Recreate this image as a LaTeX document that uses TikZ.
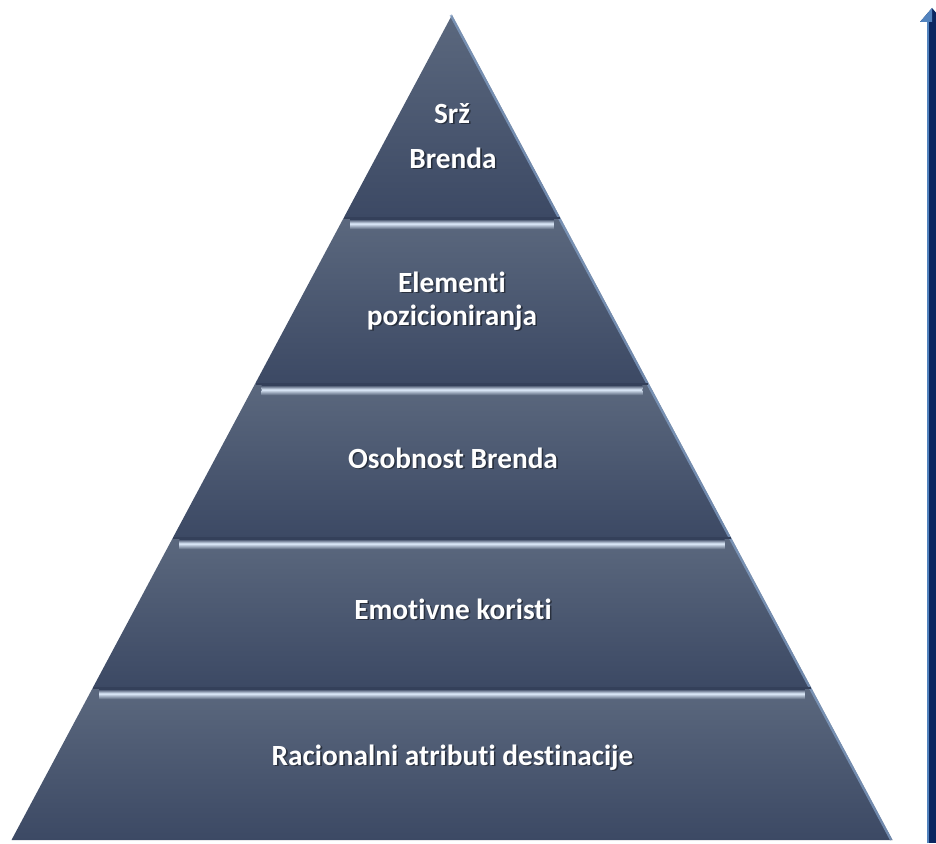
\documentclass[tikz,border=0pt]{standalone}
\usepackage{fontspec}
\setmainfont{Carlito}[RawFeature={-liga,-clig,-dlig}]
\usetikzlibrary{arrows.meta}
\definecolor{bandtop}{HTML}{5B687E}
\definecolor{bandbot}{HTML}{3C4964}
\definecolor{bandline}{HTML}{34405A}
\definecolor{hl}{HTML}{CAD7E8}
\definecolor{edgeblue}{HTML}{86A4CB}
\definecolor{navy}{HTML}{0B2761}
\definecolor{navyl}{HTML}{5283BE}
\newcommand{\lvllabel}[4]{%
  \node[shd] (#1s) at (#2+1.6,#3+1.6) {#4};
  \node[lbl] (#1) at (#2,#3) {#4};}
\begin{document}
\begin{tikzpicture}[x=1pt,y=-1pt,
  lbl/.style={text=white,font=\bfseries\fontsize{29.3}{34}\selectfont,anchor=base,inner sep=0pt},
  shd/.style={text=black,text opacity=0.45,font=\bfseries\fontsize{29.3}{34}\selectfont,anchor=base,inner sep=0pt},
  band/.style={top color=bandtop,bottom color=bandbot},
  hilinea/.style={top color=bandline,bottom color=hl},
  hilineb/.style={top color=hl,bottom color=bandtop},
  bevel/.style={edgeblue,line width=2.4pt,opacity=0.7}]
\useasboundingbox (0,0) rectangle (936,843);
\fill[white] (0,0) rectangle (936,843);
\def\ax{452}\def\ay{15}\def\k{0.533939}
\foreach \ya/\yb [count=\i] in {15/217,217/383,383/537,537/687,687/840}{
  \pgfmathsetmacro\la{\ax-\k*(\ya-\ay)}
  \pgfmathsetmacro\ra{\ax+\k*(\ya-\ay)}
  \pgfmathsetmacro\lb{\ax-\k*(\yb-\ay)}
  \pgfmathsetmacro\rb{\ax+\k*(\yb-\ay)}
  \shade[band] (\la,\ya) -- (\ra,\ya) -- (\rb,\yb) -- (\lb,\yb) -- cycle;
  \draw[bevel] (\ra-1.3,\ya) -- (\rb-1.3,\yb);
  \ifnum\i>1
    \fill[bandline] (\la,\ya) rectangle (\ra,\ya+2);
    \shade[hilinea] (\la+6,\ya+2) rectangle (\ra-6,\ya+6);
    \fill[hl] (\la+6,\ya+6) rectangle (\ra-6,\ya+7.5);
    \shade[hilineb] (\la+6,\ya+7.5) rectangle (\ra-6,\ya+12);
  \fi
}
% labels
\lvllabel{srz}{452}{123}{Srž}
\lvllabel{brenda}{453}{168}{Brenda}
\lvllabel{elem}{452}{292}{Elementi}
\lvllabel{poz}{452}{325}{pozicioniranja}
\lvllabel{osob}{453}{468}{Osobnost Brenda}
\lvllabel{emot}{453}{619}{Emotivne koristi}
\lvllabel{rac}{452.5}{765}{Racionalni atributi destinacije}
% arrow at right
\coordinate (abot) at (932,843);
\coordinate (atop) at (932,21);
\draw[navy,line width=10pt] (abot) -- (atop);
\draw[navyl,line width=2pt] ([xshift=-4pt]abot) -- ([xshift=-4pt]atop);
\fill[navy] (920,22) -- (932,8) -- (944,22) -- cycle;
\fill[navyl] (920,22) -- (932,8) -- (932,22) -- cycle;
\end{tikzpicture}
\end{document}
